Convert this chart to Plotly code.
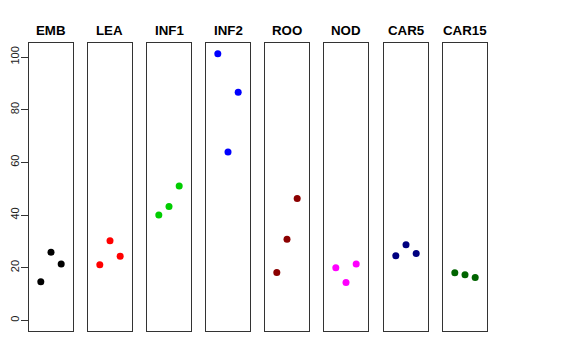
import plotly.graph_objects as go

groups = ["EMB", "LEA", "INF1", "INF2", "ROO", "NOD", "CAR5", "CAR15"]
colors = ["#000000", "#FF0000", "#00CD00", "#0000FF", "#8B0000", "#FF00FF", "#000080", "#006400"]
x_idx = [1, 2, 3]
emb = [14.7, 25.9, 21.4]
lea = [21.1, 30.2, 24.3]
inf1 = [40.0, 43.2, 51.0]
inf2 = [101.3, 63.9, 86.6]
roo = [18.2, 30.8, 46.3]
nod = [20.0, 14.4, 21.4]
car5 = [24.5, 28.7, 25.4]
car15 = [18.1, 17.3, 16.3]
values = [emb, lea, inf1, inf2, roo, nod, car5, car15]
y_ticks = [0, 20, 40, 60, 80, 100]

W, H = 576, 360
OFF = 8  # page body offset
L, R, T, B = 29 - OFF, 88 + OFF, 43 - OFF, 29 + OFF
pw = W - L - R
ph = H - T - B
panel_left = [29, 88, 147, 206, 265, 324, 384, 443]
panel_w = 44

fig = go.Figure()
layout = dict(
    width=W, height=H,
    margin=dict(l=L, r=R, t=T, b=B, autoexpand=False),
    paper_bgcolor="white", plot_bgcolor="white",
    showlegend=False,
    font=dict(family="Liberation Sans, Arial, sans-serif", color="black"),
)
annotations = []
for i, (g, c, v) in enumerate(zip(groups, colors, values)):
    n = i + 1
    xa = "x" if n == 1 else f"x{n}"
    ya = "y" if n == 1 else f"y{n}"
    fig.add_trace(go.Scatter(x=x_idx, y=v, mode="markers",
                             marker=dict(color=c, size=7),
                             xaxis=xa, yaxis=ya, hoverinfo="y"))
    d0 = (panel_left[i] - 29) / pw
    d1 = (panel_left[i] + panel_w - 29) / pw
    layout[f"xaxis{n}"] = dict(domain=[d0, d1], range=[-0.16, 4.16],
                               showticklabels=False, ticks="", showgrid=False,
                               zeroline=False, showline=True, mirror=True,
                               linecolor="#333333", linewidth=1, automargin=False,
                               anchor=ya, fixedrange=True)
    yd = dict(domain=[0, 1], range=[-4.05, 105.35], showgrid=False, zeroline=False,
              showline=True, mirror=True, linecolor="#333333", linewidth=1,
              anchor=xa, fixedrange=True, automargin=False)
    if n == 1:
        yd.update(tickmode="array", tickvals=y_ticks, ticks="outside", ticklen=7,
                  tickcolor="#333333", tickangle=-90, ticklabelstandoff=-2,
                  tickfont=dict(size=11, color="#222222"))
    else:
        yd.update(showticklabels=False, ticks="", matches="y")
    layout[f"yaxis{n}"] = yd
    annotations.append(dict(text=f"<b>{g}</b>", xref="paper", yref="paper",
                            x=(d0 + d1) / 2, y=1 + (43 - 30) / ph,
                            xanchor="center", yanchor="middle", showarrow=False,
                            font=dict(size=13.3, color="black")))
layout["annotations"] = annotations
fig.update_layout(**layout)
fig.write_html("out.html")
